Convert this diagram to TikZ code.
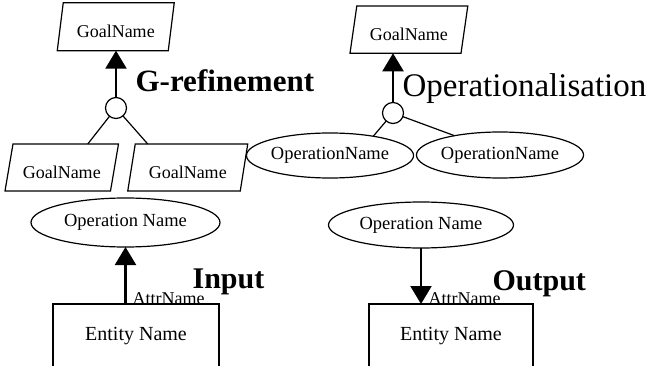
\documentclass[tikz,border=0pt]{standalone}
\usepackage{fontspec}
\setmainfont{Liberation Serif}
\usetikzlibrary{shapes.geometric,arrows.meta}

% slanted outline drawn around a (borderless) goal node
\newcommand\goalframe[2]{%
  \draw ([xshift=#2]#1.north west) -- ([xshift=#2]#1.north east)
     -- ([xshift=-#2]#1.south east) -- ([xshift=-#2]#1.south west) -- cycle;}

\begin{document}
\begin{tikzpicture}[x=1pt,y=-1pt,line width=1.2pt,
  goal/.style={rectangle,inner sep=0pt,outer sep=0pt,
    font=\fontsize{18}{20}\selectfont,text height=22pt,text depth=0pt},
  oper/.style={ellipse,draw,inner sep=0pt,outer sep=0pt,
    font=\fontsize{18.5}{20}\selectfont},
  andnode/.style={circle,draw,inner sep=0pt,outer sep=0pt,minimum size=21pt},
  entity/.style={rectangle,draw,inner sep=0pt,outer sep=0pt,
    font=\fontsize{20}{22}\selectfont},
  attr/.style={inner sep=0pt,anchor=base west,font=\fontsize{18}{20}\selectfont},
  biglabel/.style={inner sep=0pt,anchor=base west,font=\fontsize{30}{32}\selectfont\bfseries},
  link/.style={line width=1.2pt},
  arr/.style={line width=2.2pt,-{Triangle[width=21pt,length=18pt]}}]

\useasboundingbox (0,0) rectangle (663,366);

% ---------- goal refinement ----------
\node[goal,minimum width=111pt,minimum height=48pt] (gA) at (115.75,26.7) {GoalName};
\goalframe{gA}{3}
\node[andnode] (cA) at (116,108) {};
\node[goal,minimum width=105.5pt,minimum height=47pt] (gB1) at (61.75,167.5) {GoalName};
\goalframe{gB1}{4}
\node[goal,minimum width=112.5pt,minimum height=47pt] (gB2) at (187.75,167.5) {GoalName};
\goalframe{gB2}{3.75}
\draw[link] (cA) -- ([xshift=26pt]gB1.north);
\draw[link] (cA) -- ([xshift=-40pt]gB2.north);
\draw[arr] (cA.north) -- (cA.north |- gA.south);
\node[biglabel,font=\fontsize{31}{33}\selectfont\bfseries] (lG) at (135,92) {G-refinement};

% ---------- operationalisation ----------
\node[goal,minimum width=111pt,minimum height=47.3pt] (gC) at (408.9,29.65) {GoalName};
\goalframe{gC}{3.4}
\node[andnode] (cB) at (393,113) {};
\node[oper,minimum width=152pt,minimum height=45pt] (opL) at (330,155.5) {OperationName};
\node[oper,minimum width=140pt,minimum height=46pt] (opR) at (500,155) {OperationName};
\draw[link] (cB) -- (opL.24);
\draw[link] (cB) -- (opR.157);
\draw[arr] (cB.north) -- (cB.north |- gC.south);
\node[biglabel,font=\fontsize{33}{35}\selectfont] (lO) at (402,97) {Operationalisation};

% ---------- input ----------
\node[oper,minimum width=189pt,minimum height=49pt] (opB1) at (125.5,222.5) {Operation Name};
\node[entity,minimum width=166pt,minimum height=64pt] (en1) at (136,336) {Entity Name};
\draw[arr] (en1.north -| opB1.south) -- (opB1.south);
\node[attr] (at1) at (132,304) {AttrName};
\node[biglabel] (lI) at (192,288) {Input};

% ---------- output ----------
\node[oper,minimum width=185pt,minimum height=46pt] (opB2) at (421,225) {Operation Name};
\node[entity,minimum width=164pt,minimum height=64pt] (en2) at (451,336) {Entity Name};
\draw[arr] (opB2.south) -- (opB2.south |- en2.north);
\node[attr] (at2) at (428,304) {AttrName};
\node[biglabel] (lOut) at (492,290) {Output};

\end{tikzpicture}
\end{document}
